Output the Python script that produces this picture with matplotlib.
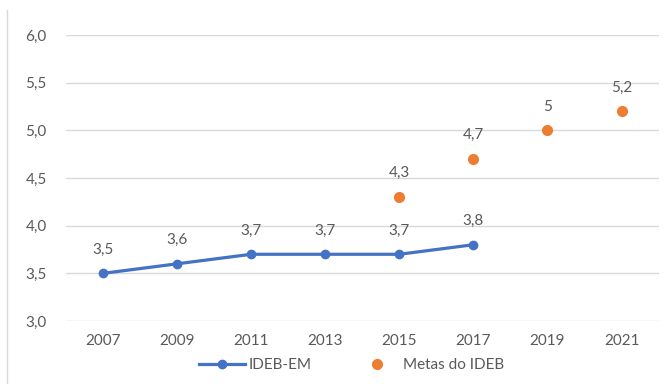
import numpy as np
import matplotlib.pyplot as plt
from matplotlib.lines import Line2D

plt.rcParams['font.family'] = ['Lato', 'DejaVu Sans']

# Dados
anos = ['2007', '2009', '2011', '2013', '2015', '2017', '2019', '2021']
ideb_em = [3.5, 3.6, 3.7, 3.7, 3.7, 3.8]          # 2007-2017
metas = [4.3, 4.7, 5.0, 5.2]                       # 2015-2021
metas_txt = ['4,3', '4,7', '5', '5,2']
yticks = [3.0, 3.5, 4.0, 4.5, 5.0, 5.5, 6.0]

azul = '#4472C4'
laranja = '#ED7D31'
cinza = '#595959'

x = np.arange(len(anos))
x_ideb = x[:len(ideb_em)]
x_metas = x[len(anos) - len(metas):]

fig = plt.figure(figsize=(6.7, 3.84), dpi=100)
ax = fig.add_axes([0.0985, 0.164, 0.8845, 0.745])

ax.plot(x_ideb, ideb_em, '-o', color=azul, linewidth=2.3, markersize=6,
        label='IDEB-EM', zorder=3)
ax.plot(x_metas, metas, 'o', color=laranja, markersize=7, linestyle='none',
        label='Metas do IDEB', zorder=3)

for xi, v in zip(x_ideb, ideb_em):
    ax.annotate(('%.1f' % v).replace('.', ','), (xi, v), xytext=(0, 12),
                textcoords='offset points', ha='center', va='bottom',
                fontsize=11, color=cinza)
for xi, v, t in zip(x_metas, metas, metas_txt):
    ax.annotate(t, (xi, v), xytext=(0, 12), textcoords='offset points',
                ha='center', va='bottom', fontsize=11, color=cinza)

ax.set_xlim(-0.5, len(anos) - 0.5)
ax.set_ylim(3.0, 6.0)
ax.set_xticks(x)
ax.set_xticklabels(anos)
ax.set_yticks(yticks)
ax.set_yticklabels([('%.1f' % v).replace('.', ',') for v in yticks])
ax.tick_params(length=0, labelsize=11, labelcolor=cinza, pad=9)
ax.tick_params(axis='y', pad=14)
ax.grid(axis='y', color='#D9D9D9', linewidth=1)
ax.set_axisbelow(True)
for s in ax.spines.values():
    s.set_visible(False)

ax.legend(loc='center', bbox_to_anchor=(0.482, -0.155), ncol=2, frameon=False,
          fontsize=11, labelcolor=cinza, handlelength=3, columnspacing=2.8,
          handletextpad=0.2)

# borda do gráfico
fig.add_artist(Line2D([0.011, 0.011], [0, 0.975], transform=fig.transFigure,
                      color='#D9D9D9', linewidth=1))

fig.savefig('out.png', dpi=100)
